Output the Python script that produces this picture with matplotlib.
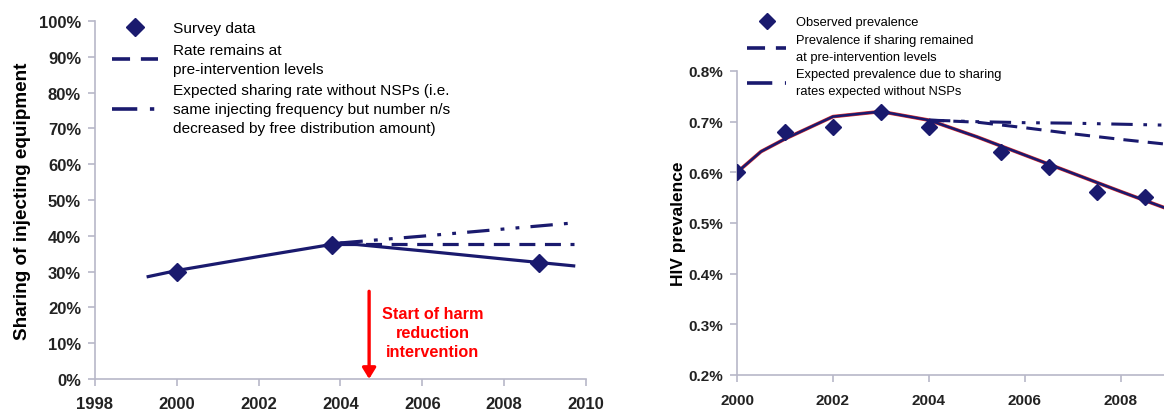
import matplotlib
matplotlib.use("Agg")
import matplotlib.pyplot as plt
from matplotlib.lines import Line2D
from matplotlib.ticker import FuncFormatter

plt.rcParams['font.family'] = ['Liberation Sans', 'DejaVu Sans']

NAVY = '#1a1a6e'
SPINE = '#b8b8c8'

# ---- Left panel data ----
survey_years = [2000, 2003.8, 2008.85]
survey_vals = [30.0, 37.3, 32.3]
model_years = [1999.3, 2000, 2002, 2004.0, 2006, 2008, 2009.7]
model_vals = [28.6, 30.3, 34.2, 38.0, 35.8, 33.5, 31.6]
flat_years = [2004.0, 2009.7]
flat_vals = [37.6, 37.6]
nonsp_years = [2004.0, 2006, 2008, 2009.7]
nonsp_vals = [38.0, 39.9, 41.9, 43.6]
left_xticks = [1998, 2000, 2002, 2004, 2006, 2008, 2010]
left_yticks = [0, 10, 20, 30, 40, 50, 60, 70, 80, 90, 100]
intervention_year = 2004.7

# ---- Right panel data ----
obs_years = [2000, 2001, 2002, 2003, 2004, 2005.5, 2006.5, 2007.5, 2008.5]
obs_vals = [0.60, 0.68, 0.69, 0.72, 0.69, 0.64, 0.61, 0.561, 0.551]
fit_years = [2000, 2000.5, 2001, 2002, 2003, 2004, 2005, 2006, 2007, 2008, 2009]
fit_vals = [0.60, 0.641, 0.666, 0.710, 0.720, 0.703, 0.670, 0.634, 0.598, 0.562, 0.527]
pre_years = [2004, 2005, 2006, 2007, 2008, 2009]
pre_vals = [0.703, 0.699, 0.688, 0.676, 0.665, 0.655]
exp_years = [2004, 2005, 2006, 2007, 2008, 2009]
exp_vals = [0.703, 0.700, 0.698, 0.697, 0.695, 0.693]
right_xticks = [2000, 2002, 2004, 2006, 2008]
right_yticks = [0.2, 0.3, 0.4, 0.5, 0.6, 0.7, 0.8]

fig = plt.figure(figsize=(11.64, 4.14), dpi=100)

DASH = (0, (5, 3))
DDOT = (0, (7, 3.5, 1.2, 3.5, 1.2, 3.5))


def style_axes(ax, size, xpad, ypad):
    for s in ['top', 'right']:
        ax.spines[s].set_visible(False)
    for s in ['left', 'bottom']:
        ax.spines[s].set_color(SPINE)
        ax.spines[s].set_linewidth(1.2)
    ax.tick_params(axis='both', colors=SPINE, length=5, width=1.2, direction='out',
                   labelcolor='#222222', labelsize=size)
    ax.tick_params(axis='x', pad=xpad)
    ax.tick_params(axis='y', pad=ypad)
    for lab in ax.get_xticklabels() + ax.get_yticklabels():
        lab.set_fontweight('bold')


# ===== Left =====
axL = fig.add_axes([0.0816, 0.0821, 0.4218, 0.8648])
axL.plot(model_years, model_vals, color=NAVY, lw=2.3, zorder=3)
axL.plot(flat_years, flat_vals, color=NAVY, lw=2.3, ls=DASH, zorder=2)
axL.plot(nonsp_years, nonsp_vals, color=NAVY, lw=2.3, ls=DDOT, zorder=2)
axL.plot(survey_years, survey_vals, ls='none', marker='D', ms=9, color=NAVY, zorder=4)
axL.set_xlim(1998, 2010)
axL.set_ylim(0, 100)
axL.set_xticks(left_xticks)
axL.set_yticks(left_yticks)
axL.yaxis.set_major_formatter(FuncFormatter(lambda v, p: f"{int(v)}%"))
axL.set_ylabel('Sharing of injecting equipment', fontsize=13.6, fontweight='bold', labelpad=6)
style_axes(axL, 12, 7, 5)

axL.annotate('', xy=(intervention_year, 0), xytext=(intervention_year, 24.5),
             arrowprops=dict(arrowstyle='-|>,head_width=0.4,head_length=0.65',
                             color='#ff0000', lw=2.4, shrinkA=0, shrinkB=0))
axL.text(2006.25, 13.0, 'Start of harm\nreduction\nintervention', color='#ff0000',
         fontsize=11.7, fontweight='bold', ha='center', va='center', linespacing=1.3)

handlesL = [
    Line2D([], [], ls='none', marker='D', ms=9, color=NAVY),
    Line2D([], [], ls=DASH, lw=2.6, color=NAVY),
    Line2D([], [], ls=DDOT, lw=2.6, color=NAVY),
]
labelsL = ['Survey data',
           'Rate remains at\npre-intervention levels',
           'Expected sharing rate without NSPs (i.e.\nsame injecting frequency but number n/s\ndecreased by free distribution amount)']
legL = axL.legend(handlesL, labelsL, loc='upper left', bbox_to_anchor=(0.0905, 0.962),
                  bbox_transform=fig.transFigure,
                  frameon=False, fontsize=11.1, handlelength=3.0, handletextpad=1.0,
                  labelspacing=0.5, borderaxespad=0)
for t in legL.get_texts():
    t.set_linespacing(1.45)

# ===== Right =====
axR = fig.add_axes([0.6332, 0.0918, 0.3668, 0.7343])
axR.plot(fit_years, fit_vals, color='#e03030', lw=2.6, zorder=2)
axR.plot(fit_years, fit_vals, color=NAVY, lw=1.8, zorder=3)
axR.plot(pre_years, pre_vals, color=NAVY, lw=2.2, ls=DASH, zorder=2)
axR.plot(exp_years, exp_vals, color=NAVY, lw=2.2, ls=DDOT, zorder=2)
axR.plot(obs_years, obs_vals, ls='none', marker='D', ms=8, color=NAVY, zorder=4)
axR.set_xlim(2000, 2008.9)
axR.set_ylim(0.2, 0.8)
axR.set_xticks(right_xticks)
axR.set_yticks(right_yticks)
axR.yaxis.set_major_formatter(FuncFormatter(lambda v, p: f"{v:.1f}%"))
axR.set_ylabel('HIV prevalence', fontsize=12.5, fontweight='bold', labelpad=2)
style_axes(axR, 11, 8, 5)
axR.spines['left'].set_bounds(0.2, 0.8)

handlesR = [
    Line2D([], [], ls='none', marker='D', ms=8, color=NAVY),
    Line2D([], [], ls=DASH, lw=2.6, color=NAVY),
    Line2D([], [], ls=DDOT, lw=2.6, color=NAVY),
]
labelsR = ['Observed prevalence',
           'Prevalence if sharing remained\nat pre-intervention levels',
           'Expected prevalence due to sharing\nrates expected without NSPs']
legR = axR.legend(handlesR, labelsR, loc='upper left', bbox_to_anchor=(0.6375, 0.971),
                  bbox_transform=fig.transFigure,
                  frameon=False, fontsize=9.3, handlelength=3.0, handletextpad=0.8,
                  labelspacing=0.45, borderaxespad=0)
for t in legR.get_texts():
    t.set_linespacing(1.5)

fig.savefig('out.png', dpi=100)
